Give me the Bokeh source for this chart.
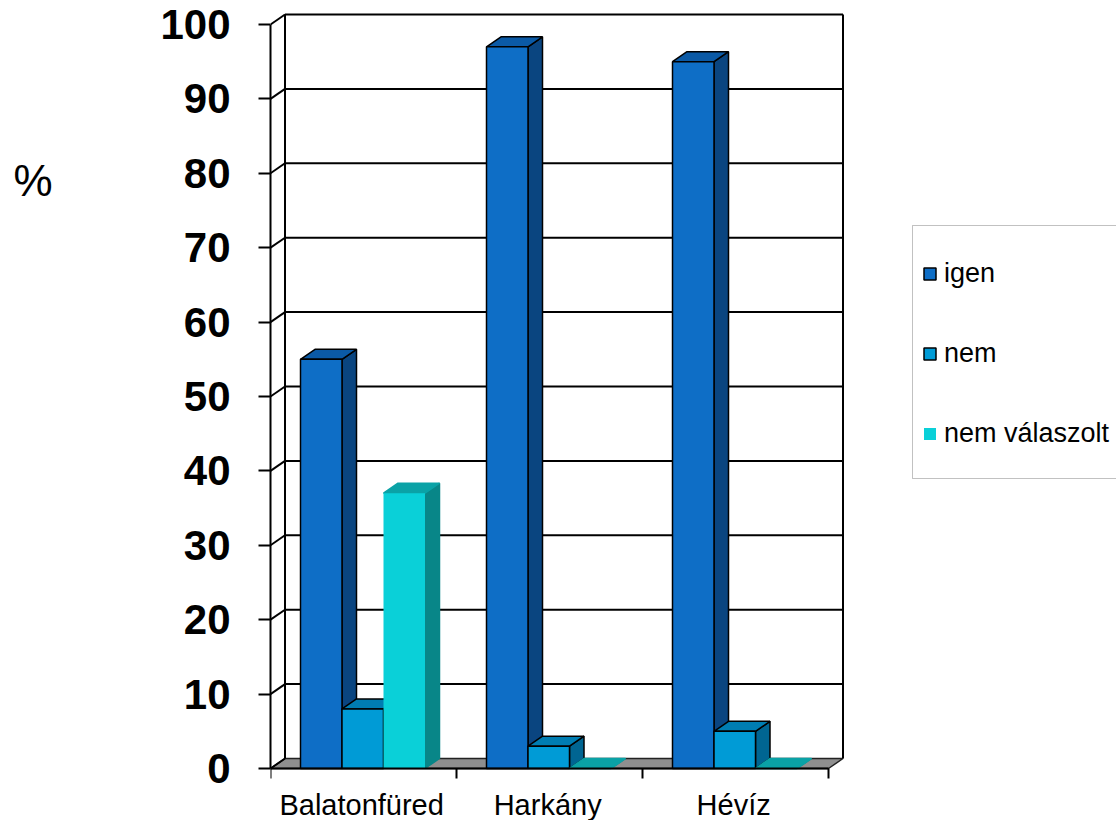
from bokeh.plotting import figure
from bokeh.models import Range1d, FixedTicker, Legend, LegendItem, BoxAnnotation, LinearAxis
from bokeh.core.properties import value
from bokeh.embed import file_html
from bokeh.resources import INLINE

# ---- data ----
categories = ["Balatonfüred", "Harkány", "Hévíz"]
series_names = ["igen", "nem", "nem válaszolt"]
igen = [55, 97, 95]
nem = [8, 3, 5]
nem_valaszolt = [37, 0, 0]
y_ticks = [0, 10, 20, 30, 40, 50, 60, 70, 80, 90, 100]
y_label = "%"

series_values = [igen, nem, nem_valaszolt]

# ---- style ----
front_colors = ["#0E6EC6", "#009BD6", "#0AD0D8"]
side_colors = ["#0A4580", "#006592", "#088688"]
top_colors = ["#0B5AA6", "#007DB2", "#0AA2A6"]
edge_colors = ["black", "black", None]
FONT = "Liberation Sans"

PX_X = 186.0    # pixels per category
PX_Y = 7.44     # pixels per percent
W = 41.5 / PX_X  # bar width in category units
OFF = 30.0 / PX_X
DX = 14.5 / PX_X  # 3D depth offsets
DY = 10.0 / PX_Y
n_cat = len(categories)
ymax = y_ticks[-1]

p = figure(width=1116, height=820,
           x_range=Range1d(0, 846 / PX_X), y_range=Range1d(-52 / PX_Y, 768 / PX_Y),
           output_backend="svg", toolbar_location=None, x_axis_type=None,
           min_border_left=270, min_border_right=0, min_border_top=0, min_border_bottom=0)
p.outline_line_color = None
p.ygrid.visible = False
p.background_fill_color = "white"
p.border_fill_color = "white"

# y axis
ax = p.yaxis[0]
ax.ticker = FixedTicker(ticks=y_ticks)
ax.bounds = (0, ymax)
ax.major_tick_in = 0
ax.major_tick_out = 12
ax.minor_tick_line_color = None
ax.major_label_standoff = 28
ax.major_label_text_font = FONT
ax.major_label_text_font_style = "bold"
ax.major_label_text_font_size = "42px"
ax.major_label_text_color = "black"
ax.axis_line_width = 2
ax.axis_line_color = "black"
ax.major_tick_line_width = 2
ax.major_tick_line_color = "black"

# "%" as the label of an outer axis without line/ticks
pct_pos = 79
ax2 = LinearAxis(ticker=FixedTicker(ticks=[pct_pos]), major_label_overrides={pct_pos: y_label},
                 axis_line_color=None, major_tick_line_color=None, minor_tick_line_color=None,
                 major_label_standoff=99, major_label_text_font=FONT,
                 major_label_text_font_size="44px", major_label_text_color="black")
p.add_layout(ax2, "left")

# floor
p.patch([0, DX, n_cat + DX, n_cat], [0, DY, DY, 0],
        fill_color="#8F8F8F", line_color="#222222", line_width=1.5)

# back wall gridlines
p.multi_line([[DX, n_cat + DX] for v in y_ticks[1:]],
             [[v + DY, v + DY] for v in y_ticks[1:]],
             line_color="black", line_width=2)
# left wall diagonals
p.multi_line([[0, DX] for v in y_ticks], [[v, v + DY] for v in y_ticks],
             line_color="black", line_width=2)
# back wall verticals
p.multi_line([[DX, DX], [n_cat + DX, n_cat + DX]],
             [[DY, ymax + DY], [DY, ymax + DY]],
             line_color="black", line_width=2)

# bars
legend_items = []
for j, vals in enumerate(series_values):
    fx, fy, sx, sy, tx, ty = [], [], [], [], [], []
    for i, v in enumerate(vals):
        x0 = i + OFF + j * W
        x1 = x0 + W
        fx.append([x0, x1, x1, x0]); fy.append([0, 0, v, v])
        sx.append([x1, x1 + DX, x1 + DX, x1]); sy.append([0, DY, v + DY, v])
        tx.append([x0, x0 + DX, x1 + DX, x1]); ty.append([v, v + DY, v + DY, v])
    lc = edge_colors[j]
    p.patches(sx, sy, fill_color=side_colors[j], line_color=lc if lc else side_colors[j], line_width=1.5)
    p.patches(tx, ty, fill_color=top_colors[j], line_color=lc if lc else top_colors[j], line_width=1.5)
    r = p.patches(fx, fy, fill_color=front_colors[j], line_color=lc, line_width=1.5)
    legend_items.append(LegendItem(label=series_names[j], renderers=[r]))

# front baseline and category separators
p.segment(x0=[0], y0=[0], x1=[n_cat], y1=[0], line_color="black", line_width=2)
p.segment(x0=list(range(n_cat + 1)), y0=[0] * (n_cat + 1),
          x1=list(range(n_cat + 1)), y1=[-10 / PX_Y] * (n_cat + 1),
          line_color="black", line_width=2)

# category labels
p.text(x=[i + 0.49 for i in range(n_cat)], y=[-36 / PX_Y] * n_cat, text=categories,
       text_align="center", text_baseline="middle",
       text_font=value(FONT), text_font_size="29px", text_color="black")

# legend box + legend
p.add_layout(BoxAnnotation(left=642 / PX_X, right=900 / PX_X, top=543 / PX_Y, bottom=290 / PX_Y,
                           fill_alpha=0, line_color="#333333", line_width=1))
legend = Legend(items=legend_items, location=(652, 371), orientation="vertical",
                border_line_color=None, background_fill_alpha=0, padding=0, margin=0,
                spacing=49, glyph_width=15, glyph_height=15, label_height=15,
                label_standoff=7, label_text_font=FONT, label_text_font_size="27px",
                label_text_color="black")
p.add_layout(legend)

open("out.html", "w").write(file_html(p, INLINE))
